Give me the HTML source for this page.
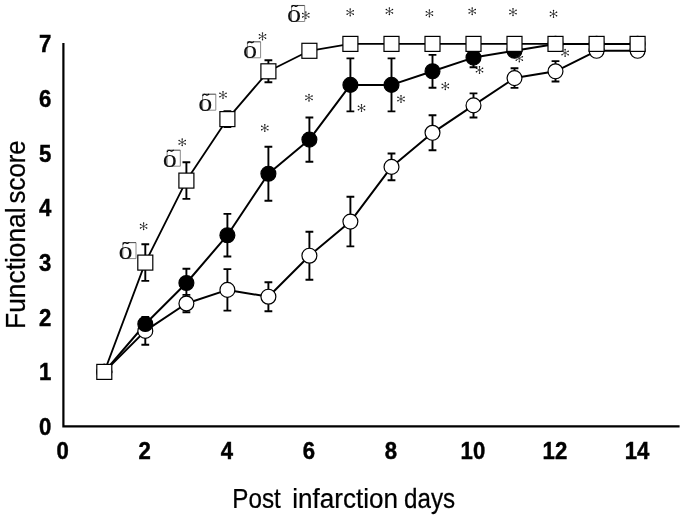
<!DOCTYPE html>
<html><head><meta charset="utf-8"><title>Functional score</title>
<style>
html,body{margin:0;padding:0;background:#fff;}
body{width:685px;height:516px;overflow:hidden;font-family:"Liberation Sans",sans-serif;}
svg{display:block;will-change:transform;}
.tk text{font-family:"Liberation Sans",sans-serif;font-weight:bold;font-size:23.3px;text-anchor:middle;fill:#000;stroke:#000;stroke-width:0.45px;}
.lab{font-family:"Liberation Sans",sans-serif;font-size:27.3px;fill:#000;stroke:#000;stroke-width:0.25px;}
.dl{font-family:"Liberation Serif",serif;font-size:24.5px;fill:#111;}
</style></head><body>
<svg width="685" height="516" viewBox="0 0 685 516">
<defs>
<g id="st"><path d="M0 -3.3V3.3M-3.1 -1.75L3.1 1.75M-3.1 1.75L3.1 -1.75" stroke="#333" stroke-width="0.8" fill="none"/><path d="M0 -3.3h0M0 3.3h0M-3.1 -1.75h0M3.1 1.75h0M-3.1 1.75h0M3.1 -1.75h0" stroke="#111" stroke-width="1.5" stroke-linecap="round" fill="none"/></g>
<g id="dl"><path d="M3.2 0.6V16.6H16.4V0.6" fill="none" stroke="#8a8a8a" stroke-width="1"/><path d="M3.2 0.6H16.4" fill="none" stroke="#555" stroke-width="1.1"/><path d="M3.2 2.4C4.2 0.2 5.6 0.5 6.6 1.1S8.7 1.8 9.7 0.3" fill="none" stroke="#000" stroke-width="1.1"/><text class="dl" x="-1.05" y="16.9" transform="scale(1.15 1)">o</text></g>
</defs>
<rect width="685" height="516" fill="#fff"/>
<path d="M63.4 43V427.5M62.3 426.4H679.6" stroke="#000" stroke-width="2.2" fill="none"/>
<g class="tk"><text x="62.7" y="458.7" transform="translate(62.7 0) scale(0.95 1) translate(-62.7 0)">0</text><text x="144.7" y="458.7" transform="translate(144.7 0) scale(0.95 1) translate(-144.7 0)">2</text><text x="226.8" y="458.7" transform="translate(226.8 0) scale(0.95 1) translate(-226.8 0)">4</text><text x="308.8" y="458.7" transform="translate(308.8 0) scale(0.95 1) translate(-308.8 0)">6</text><text x="390.9" y="458.7" transform="translate(390.9 0) scale(0.95 1) translate(-390.9 0)">8</text><text x="472.9" y="458.7" transform="translate(472.9 0) scale(0.95 1) translate(-472.9 0)">10</text><text x="554.9" y="458.7" transform="translate(554.9 0) scale(0.95 1) translate(-554.9 0)">12</text><text x="637.0" y="458.7" transform="translate(637.0 0) scale(0.95 1) translate(-637.0 0)">14</text><text x="45.2" y="435.0" transform="translate(45.2 0) scale(0.95 1) translate(-45.2 0)">0</text><text x="45.2" y="380.4" transform="translate(45.2 0) scale(0.95 1) translate(-45.2 0)">1</text><text x="45.2" y="325.7" transform="translate(45.2 0) scale(0.95 1) translate(-45.2 0)">2</text><text x="45.2" y="271.1" transform="translate(45.2 0) scale(0.95 1) translate(-45.2 0)">3</text><text x="45.2" y="216.4" transform="translate(45.2 0) scale(0.95 1) translate(-45.2 0)">4</text><text x="45.2" y="161.8" transform="translate(45.2 0) scale(0.95 1) translate(-45.2 0)">5</text><text x="45.2" y="107.1" transform="translate(45.2 0) scale(0.95 1) translate(-45.2 0)">6</text><text x="45.2" y="52.4" transform="translate(45.2 0) scale(0.95 1) translate(-45.2 0)">7</text></g>
<text class="lab" transform="translate(232.3 507.9) scale(0.887 1)">Post</text>
<text class="lab" transform="translate(292.3 507.9) scale(0.955 1)">infarction</text>
<text class="lab" transform="translate(404 507.9) scale(0.886 1)">days</text>
<text class="lab" transform="translate(25.2 328.9) rotate(-90) scale(0.965 1)">Functional</text>
<text class="lab" transform="translate(25.2 203.4) rotate(-90) scale(0.945 1)">score</text>
<g>
<polyline points="104.3,371.9 145.3,330.9 186.4,303.5 227.4,289.9 268.4,296.7 309.4,255.7 350.4,221.6 391.5,166.9 432.5,132.8 473.5,105.4 514.5,78.1 555.5,71.3 596.6,50.8 637.6,50.8" fill="none" stroke="#000" stroke-width="2.0" stroke-linejoin="round"/>
<path d="M145.3 316.9V344.8M141.4 316.9H149.2M141.4 344.8H149.2M186.4 294.9V312.2M182.5 294.9H190.3M182.5 312.2H190.3M227.4 269.1V310.6M223.5 269.1H231.3M223.5 310.6H231.3M268.4 282.2V311.2M264.5 282.2H272.3M264.5 311.2H272.3M309.4 231.7V279.8M305.5 231.7H313.3M305.5 279.8H313.3M350.4 196.7V246.4M346.5 196.7H354.3M346.5 246.4H354.3M391.5 153.5V180.3M387.6 153.5H395.4M387.6 180.3H395.4M432.5 115.3V150.2M428.6 115.3H436.4M428.6 150.2H436.4M473.5 93.4V117.5M469.6 93.4H477.4M469.6 117.5H477.4M514.5 68.3V87.9M510.6 68.3H518.4M510.6 87.9H518.4M555.5 61.1V81.5M551.6 61.1H559.4M551.6 81.5H559.4" fill="none" stroke="#000" stroke-width="1.9"/>
<polyline points="104.3,371.9 145.3,324.0 186.4,283.0 227.4,235.2 268.4,173.7 309.4,139.6 350.4,84.9 391.5,84.9 432.5,71.3 473.5,57.6 514.5,50.8 555.5,43.9 596.6,43.9 637.6,43.9" fill="none" stroke="#000" stroke-width="2.0" stroke-linejoin="round"/>
<path d="M186.4 268.8V297.3M182.5 268.8H190.3M182.5 297.3H190.3M227.4 213.9V256.5M223.5 213.9H231.3M223.5 256.5H231.3M268.4 146.7V200.8M264.5 146.7H272.3M264.5 200.8H272.3M309.4 117.5V161.7M305.5 117.5H313.3M305.5 161.7H313.3M350.4 58.4V111.4M346.5 58.4H354.3M346.5 111.4H354.3M391.5 58.4V111.4M387.6 58.4H395.4M387.6 111.4H395.4M432.5 54.9V87.7M428.6 54.9H436.4M428.6 87.7H436.4M473.5 48.0V67.2M469.6 48.0H477.4M469.6 67.2H477.4" fill="none" stroke="#000" stroke-width="1.9"/>
<polyline points="104.3,371.9 145.3,262.6 186.4,180.6 227.4,119.1 268.4,71.3 309.4,50.8 350.4,43.9 391.5,43.9 432.5,43.9 473.5,43.9 514.5,43.9 555.5,43.9 596.6,43.9 637.6,43.9" fill="none" stroke="#000" stroke-width="1.8" stroke-linejoin="round"/>
<path d="M145.3 244.2V280.9M141.4 244.2H149.2M141.4 280.9H149.2M186.4 162.3V198.9M182.5 162.3H190.3M182.5 198.9H190.3M227.4 111.1V127.1M223.5 111.1H231.3M223.5 127.1H231.3M268.4 60.3V82.2M264.5 60.3H272.3M264.5 82.2H272.3" fill="none" stroke="#000" stroke-width="1.9"/>
</g>
<g>
<circle cx="104.3" cy="371.9" r="7.45" fill="#fff" stroke="#000" stroke-width="1.2"/>
<circle cx="145.3" cy="330.9" r="7.45" fill="#fff" stroke="#000" stroke-width="1.2"/>
<circle cx="186.4" cy="303.5" r="7.45" fill="#fff" stroke="#000" stroke-width="1.2"/>
<circle cx="227.4" cy="289.9" r="7.45" fill="#fff" stroke="#000" stroke-width="1.2"/>
<circle cx="268.4" cy="296.7" r="7.45" fill="#fff" stroke="#000" stroke-width="1.2"/>
<circle cx="309.4" cy="255.7" r="7.45" fill="#fff" stroke="#000" stroke-width="1.2"/>
<circle cx="350.4" cy="221.6" r="7.45" fill="#fff" stroke="#000" stroke-width="1.2"/>
<circle cx="391.5" cy="166.9" r="7.45" fill="#fff" stroke="#000" stroke-width="1.2"/>
<circle cx="432.5" cy="132.8" r="7.45" fill="#fff" stroke="#000" stroke-width="1.2"/>
<circle cx="473.5" cy="105.4" r="7.45" fill="#fff" stroke="#000" stroke-width="1.2"/>
<circle cx="514.5" cy="78.1" r="7.45" fill="#fff" stroke="#000" stroke-width="1.2"/>
<circle cx="555.5" cy="71.3" r="7.45" fill="#fff" stroke="#000" stroke-width="1.2"/>
<circle cx="596.6" cy="50.8" r="7.45" fill="#fff" stroke="#000" stroke-width="1.2"/>
<circle cx="637.6" cy="50.8" r="7.45" fill="#fff" stroke="#000" stroke-width="1.2"/>
<circle cx="104.3" cy="371.9" r="7.45" fill="#000" stroke="#000" stroke-width="1.2"/>
<circle cx="145.3" cy="324.0" r="7.45" fill="#000" stroke="#000" stroke-width="1.2"/>
<circle cx="186.4" cy="283.0" r="7.45" fill="#000" stroke="#000" stroke-width="1.2"/>
<circle cx="227.4" cy="235.2" r="7.45" fill="#000" stroke="#000" stroke-width="1.2"/>
<circle cx="268.4" cy="173.7" r="7.45" fill="#000" stroke="#000" stroke-width="1.2"/>
<circle cx="309.4" cy="139.6" r="7.45" fill="#000" stroke="#000" stroke-width="1.2"/>
<circle cx="350.4" cy="84.9" r="7.45" fill="#000" stroke="#000" stroke-width="1.2"/>
<circle cx="391.5" cy="84.9" r="7.45" fill="#000" stroke="#000" stroke-width="1.2"/>
<circle cx="432.5" cy="71.3" r="7.45" fill="#000" stroke="#000" stroke-width="1.2"/>
<circle cx="473.5" cy="57.6" r="7.45" fill="#000" stroke="#000" stroke-width="1.2"/>
<circle cx="514.5" cy="50.8" r="7.45" fill="#000" stroke="#000" stroke-width="1.2"/>
<circle cx="555.5" cy="43.9" r="7.45" fill="#000" stroke="#000" stroke-width="1.2"/>
<circle cx="596.6" cy="43.9" r="7.45" fill="#000" stroke="#000" stroke-width="1.2"/>
<circle cx="637.6" cy="43.9" r="7.45" fill="#000" stroke="#000" stroke-width="1.2"/>
</g>
<g>
<rect x="96.8" y="364.4" width="15.0" height="15.0" fill="#fff" stroke="#000" stroke-width="1.2"/>
<rect x="137.8" y="255.1" width="15.0" height="15.0" fill="#fff" stroke="#000" stroke-width="1.2"/>
<rect x="178.9" y="173.1" width="15.0" height="15.0" fill="#fff" stroke="#000" stroke-width="1.2"/>
<rect x="219.9" y="111.6" width="15.0" height="15.0" fill="#fff" stroke="#000" stroke-width="1.2"/>
<rect x="260.9" y="63.8" width="15.0" height="15.0" fill="#fff" stroke="#000" stroke-width="1.2"/>
<rect x="301.9" y="43.3" width="15.0" height="15.0" fill="#fff" stroke="#000" stroke-width="1.2"/>
<rect x="342.9" y="36.4" width="15.0" height="15.0" fill="#fff" stroke="#000" stroke-width="1.2"/>
<rect x="384.0" y="36.4" width="15.0" height="15.0" fill="#fff" stroke="#000" stroke-width="1.2"/>
<rect x="425.0" y="36.4" width="15.0" height="15.0" fill="#fff" stroke="#000" stroke-width="1.2"/>
<rect x="466.0" y="36.4" width="15.0" height="15.0" fill="#fff" stroke="#000" stroke-width="1.2"/>
<rect x="507.0" y="36.4" width="15.0" height="15.0" fill="#fff" stroke="#000" stroke-width="1.2"/>
<rect x="548.0" y="36.4" width="15.0" height="15.0" fill="#fff" stroke="#000" stroke-width="1.2"/>
<rect x="589.1" y="36.4" width="15.0" height="15.0" fill="#fff" stroke="#000" stroke-width="1.2"/>
<rect x="630.1" y="36.4" width="15.0" height="15.0" fill="#fff" stroke="#000" stroke-width="1.2"/>
</g>
<g><use href="#st" x="143.6" y="226.3"/><use href="#st" x="182.2" y="142.3"/><use href="#st" x="223.0" y="95.0"/><use href="#st" x="262.5" y="36.4"/><use href="#st" x="305.8" y="15.2"/><use href="#st" x="350.2" y="12.4"/><use href="#st" x="389.4" y="11.3"/><use href="#st" x="429.4" y="13.4"/><use href="#st" x="472.2" y="11.2"/><use href="#st" x="513.0" y="12.1"/><use href="#st" x="553.5" y="13.9"/><use href="#st" x="264.8" y="128.0"/><use href="#st" x="309.0" y="97.7"/><use href="#st" x="361.5" y="108.0"/><use href="#st" x="401.0" y="99.0"/><use href="#st" x="445.3" y="86.1"/><use href="#st" x="479.5" y="70.0"/><use href="#st" x="519.3" y="58.4"/><use href="#st" x="565.1" y="52.9"/></g>
<g><use href="#dl" x="119.6" y="242.0"/><use href="#dl" x="163.9" y="149.6"/><use href="#dl" x="199.4" y="93.6"/><use href="#dl" x="244.2" y="41.2"/><use href="#dl" x="288.3" y="4.9"/></g>
</svg>
</body></html>
